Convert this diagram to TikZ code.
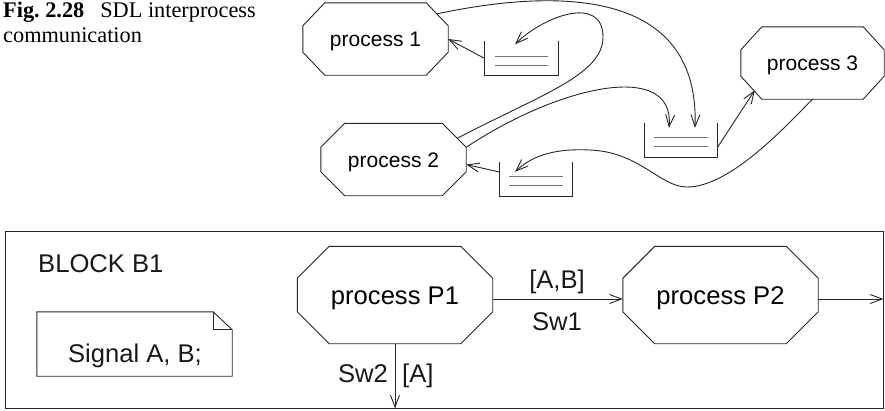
\documentclass[tikz,border=0pt]{standalone}
\usepackage{fontspec}
\setmainfont{Liberation Sans}
\newfontfamily\capfont{Liberation Serif}
\usetikzlibrary{arrows.meta,calc}
\newcommand\octo[3]{\draw[ln] ([xshift=#2]#1.north west) -- ([xshift=-#2]#1.north east) -- ([yshift=-#3]#1.north east) -- ([yshift=#3]#1.south east) -- ([xshift=-#2]#1.south east) -- ([xshift=#2]#1.south west) -- ([yshift=#3]#1.south west) -- ([yshift=-#3]#1.north west) -- cycle;}
\newcommand\qbox[1]{\draw[ln] (#1.north west) -- (#1.south west) -- (#1.south east) -- (#1.north east);
  \draw[qline] ([xshift=10pt,yshift=-15pt]#1.north west) -- ([xshift=-10pt,yshift=-15pt]#1.north east);
  \draw[qline] ([xshift=10pt,yshift=-24pt]#1.north west) -- ([xshift=-10pt,yshift=-24pt]#1.north east);}
\begin{document}
\begin{tikzpicture}[x=1pt,y=-1pt,
  ln/.style={draw=black!85, line width=0.9pt},
  arr/.style={ln, -{Straight Barb[length=12pt,width=9pt]}},
  qline/.style={draw=black!55, line width=1.1pt},
  box/.style={inner sep=0pt, draw=none},
  proc/.style={box, minimum width=145pt, minimum height=72pt, font=\fontsize{21}{21}\selectfont, text height=15pt, text depth=0pt},
  bproc/.style={box, minimum width=195pt, minimum height=97pt, font=\fontsize{25.6}{26}\selectfont, text height=18pt, text depth=0pt},
  que/.style={box, minimum width=73pt, minimum height=34pt},
  lbl/.style={font=\fontsize{25.6}{26}\selectfont, inner sep=0pt, text=black!90},
  captext/.style={anchor=base west, inner sep=0pt, font=\capfont\fontsize{22.3}{25}\selectfont}
]
\useasboundingbox (0,0) rectangle (885,410);
% caption
\node[captext] (cap1) at (3,17.3) {\textbf{Fig.~2.28}\hspace{16pt}SDL interprocess};
\node[captext] (cap2) at (3,42) {communication};
% top diagram
\node[proc] (p1) at (375.5,39) {process 1};
\node[proc] (p2) at (393.5,159.5) {process 2};
\node[proc, minimum width=143pt] (p3) at (812.5,63) {process 3};
\octo{p1}{22pt}{23pt}
\octo{p2}{24pt}{24pt}
\octo{p3}{21pt}{23pt}
\node[que] (q1) at (521.5,58.5) {};
\node[que] (q2) at (536,179) {};
\node[que] (q3) at (681,140) {};
\qbox{q1}\qbox{q2}\qbox{q3}
\draw[arr] (q1.west) -- (p1.east);
\draw[arr] ([yshift=7pt]q2.west) -- ([yshift=-5pt]p2.east);
\draw[arr] ([yshift=-7pt]q3.east) -- ([xshift=14pt,yshift=9pt]p3.south west);
\draw[arr] ([xshift=-11pt,yshift=-11pt]p1.north east) .. controls (540,-8) and (700,-20) .. ([xshift=14pt,yshift=-5pt]q3.north);
\draw[arr] ([yshift=-24pt]p2.north east) .. controls (560,85) and (675,60) .. ([xshift=-12pt,yshift=-5pt]q3.north);
\draw[arr] ([xshift=-9pt,yshift=-15pt]p2.north east) .. controls (540,95) and (603,75) .. (603,37) .. controls (603,-5) and (545,15) .. ([xshift=-6.5pt,yshift=-3pt]q1.north);
\draw[arr] (p3.south) .. controls (785,127) and (730,187) .. (687,187) .. controls (660,187) and (640,152) .. (590,150) .. controls (550,148) and (530,158) .. ([xshift=-21pt,yshift=-10pt]q2.north);
% block
\node[box, ln, minimum width=878pt, minimum height=177pt] (blk) at (444,319.5) {};
\node[lbl, anchor=base west] (bname) at (38,272) {BLOCK B1};
\node[box, minimum width=195pt, minimum height=64pt] (note) at (134.5,344) {};
\draw[ln] (note.north west) -- ([xshift=-19pt]note.north east) -- ([yshift=-18pt]note.north east) -- (note.south east) -- (note.south west) -- cycle;
\draw[ln] ([xshift=-19pt]note.north east) -- ([xshift=-19pt,yshift=-18pt]note.north east) -- ([yshift=-18pt]note.north east);
\node[lbl, anchor=base] (sig) at (135,362) {Signal A, B;};
\node[bproc] (P1) at (395,295) {process P1};
\node[bproc] (P2) at (720.5,295) {process P2};
\octo{P1}{32pt}{32pt}
\octo{P2}{32pt}{32pt}
\draw[arr] ([yshift=-4pt]P1.east) -- ([yshift=-4pt]P2.west);
\node[lbl, anchor=base] (ab) at (557,288) {[A,B]};
\node[lbl, anchor=base] (sw1) at (557,330) {Sw1};
\draw[arr] ([yshift=-4pt]P2.east) -- ([yshift=-4pt]P2.east -| blk.east);
\draw[arr] (P1.south) -- (P1.south |- blk.south);
\node[lbl, anchor=base east] (sw2) at (388,382) {Sw2};
\node[lbl, anchor=base west] (sa) at (402,382) {[A]};
\end{tikzpicture}
\end{document}
